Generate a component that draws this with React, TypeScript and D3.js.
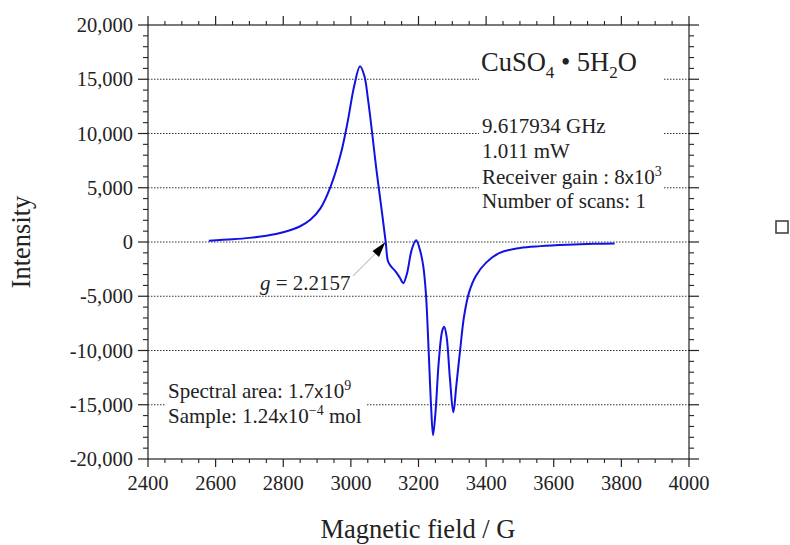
import React from "react";
import * as d3 from "d3";

// Data
const fields = [2580, 2650, 2700, 2750, 2800, 2850, 2880, 2910, 2940, 2970, 2990, 3010, 3027, 3040, 3050, 3062, 3075, 3090, 3103, 3110, 3120, 3132, 3145, 3155, 3166, 3180, 3193, 3204, 3214, 3222, 3230, 3237, 3243, 3250, 3260, 3270, 3276, 3283, 3293, 3303, 3312, 3323, 3335, 3350, 3370, 3400, 3440, 3500, 3560, 3640, 3720, 3780];
const intensity = [120, 250, 380, 580, 900, 1450, 2050, 3100, 5100, 8100, 11000, 14400, 16200, 15300, 13300, 10300, 6800, 3200, 0, -1800, -2300, -2700, -3300, -3800, -2900, -700, 150, -700, -2200, -4800, -10000, -15000, -17800, -15800, -11000, -8200, -7800, -8700, -12600, -15700, -13200, -10000, -6800, -4600, -3100, -1900, -1000, -550, -380, -250, -170, -140];

const xTicks = [2400, 2600, 2800, 3000, 3200, 3400, 3600, 3800, 4000];
const yTicks = [-20000, -15000, -10000, -5000, 0, 5000, 10000, 15000, 20000];
const gridValues = [-15000, -10000, -5000, 0, 5000, 10000, 15000];

const W = 790;
const H = 545;
const m = { left: 148, right: 689, top: 25, bottom: 459 };
const serif = "'Liberation Serif', 'Times New Roman', serif";
const sans = "'Liberation Sans', Arial, sans-serif";

export default function App() {
  const x = d3.scaleLinear().domain([2400, 4000]).range([m.left, m.right]);
  const y = d3.scaleLinear().domain([-20000, 20000]).range([m.bottom, m.top]);

  const line = d3
    .line<number>()
    .x((_, i) => x(fields[i]))
    .y((d) => y(d))
    .curve(d3.curveCatmullRom.alpha(0.5));

  const xMinor = d3.range(2400, 4001, 50).filter((v) => v % 200 !== 0);
  const yMinor = d3.range(-20000, 20001, 1000).filter((v) => v % 5000 !== 0);

  return (
    <svg
      width={W}
      height={H}
      style={{ position: "absolute", left: 0, top: 0, background: "#fff" }}
      fontFamily={serif}
    >
      {/* gridlines */}
      {gridValues.map((v) => (
        <line
          key={"g" + v}
          x1={m.left}
          x2={m.right}
          y1={y(v)}
          y2={y(v)}
          stroke="#333"
          strokeWidth={1}
          strokeDasharray="1.5,1.5"
        />
      ))}

      {/* white boxes behind annotations */}
      <rect x={479} y={46} width={184} height={36} fill="#fff" />
      <rect x={479} y={114} width={185} height={100} fill="#fff" />
      <rect x={165} y={378} width={202} height={50} fill="#fff" />

      {/* frame */}
      <rect
        x={m.left}
        y={m.top}
        width={m.right - m.left}
        height={m.bottom - m.top}
        fill="none"
        stroke="#222"
        strokeWidth={1.2}
      />

      {/* x ticks bottom & top */}
      {xTicks.map((v) => (
        <g key={"xt" + v}>
          <line x1={x(v)} x2={x(v)} y1={m.bottom} y2={m.bottom + 8} stroke="#222" strokeWidth={1.2} />
          <line x1={x(v)} x2={x(v)} y1={m.top} y2={m.top - 9} stroke="#222" strokeWidth={1.2} />
          <text x={x(v)} y={490} textAnchor="middle" fontSize={20.5} fill="#222">
            {v}
          </text>
        </g>
      ))}
      {xMinor.map((v) => (
        <g key={"xm" + v}>
          <line x1={x(v)} x2={x(v)} y1={m.bottom} y2={m.bottom + 4} stroke="#222" strokeWidth={1.1} />
          <line x1={x(v)} x2={x(v)} y1={m.top} y2={m.top - 4} stroke="#222" strokeWidth={1.1} />
        </g>
      ))}

      {/* y ticks left & right */}
      {yTicks.map((v) => (
        <g key={"yt" + v}>
          <line x1={m.left} x2={m.left - 10} y1={y(v)} y2={y(v)} stroke="#222" strokeWidth={1.2} />
          <line x1={m.right} x2={m.right + 10} y1={y(v)} y2={y(v)} stroke="#222" strokeWidth={1.2} />
          <text x={133} y={y(v)} dy="0.35em" textAnchor="end" fontSize={20.5} fill="#222">
            {d3.format(",")(v).replace("−", "-")}
          </text>
        </g>
      ))}
      {yMinor.map((v) => (
        <g key={"ym" + v}>
          <line x1={m.left} x2={m.left - 5} y1={y(v)} y2={y(v)} stroke="#222" strokeWidth={1.1} />
          <line x1={m.right} x2={m.right + 5} y1={y(v)} y2={y(v)} stroke="#222" strokeWidth={1.1} />
        </g>
      ))}

      {/* spectrum */}
      <path d={line(intensity) || ""} fill="none" stroke="#1212e0" strokeWidth={2} />

      {/* arrow annotation */}
      <line x1={353} y1={276} x2={377} y2={252} stroke="#c8c8c8" strokeWidth={1.2} />
      <path d="M385.5,242 L372.5,251 L379,257 Z" fill="#000" />
      <text x={260} y={290} fontSize={21} fill="#222">
        <tspan fontStyle="italic">g</tspan> = 2.2157
      </text>

      {/* compound label */}
      <text x={481} y={71} fontSize={26.5} fill="#222">
        CuSO<tspan fontSize={17} dy={7}>4</tspan>
        <tspan dy={-7}> • 5H</tspan>
        <tspan fontSize={17} dy={7}>2</tspan>
        <tspan dy={-7}>O</tspan>
      </text>

      {/* measurement conditions */}
      <g fontSize={21} fill="#222">
        <text x={482} y={133}>9.617934 GHz</text>
        <text x={482} y={158}>1.011 mW</text>
        <text x={482} y={184}>
          Receiver gain : 8<tspan fontFamily={sans} fontSize={18}>x</tspan>10
          <tspan fontSize={14} dy={-8}>3</tspan>
        </text>
        <text x={482} y={208}>Number of scans: 1</text>
      </g>

      <g fontSize={21} fill="#222">
        <text x={168} y={398}>
          Spectral area: 1.7<tspan fontFamily={sans} fontSize={18}>x</tspan>10
          <tspan fontSize={14} dy={-8}>9</tspan>
        </text>
        <text x={168} y={423}>
          Sample: 1.24<tspan fontFamily={sans} fontSize={18}>x</tspan>10
          <tspan fontSize={14} dy={-8}>−4</tspan>
          <tspan dy={8}> mol</tspan>
        </text>
      </g>

      {/* axis titles */}
      <text
        transform={`translate(30,${(m.top + m.bottom) / 2}) rotate(-90)`}
        textAnchor="middle"
        fontSize={26.5}
        fill="#222"
      >
        Intensity
      </text>
      <text x={418} y={538} textAnchor="middle" fontSize={26.5} fill="#222">
        Magnetic field / G
      </text>

      {/* stray legend marker */}
      <rect x={776} y={221} width={12} height={12} fill="none" stroke="#444" strokeWidth={1.6} />
    </svg>
  );
}
